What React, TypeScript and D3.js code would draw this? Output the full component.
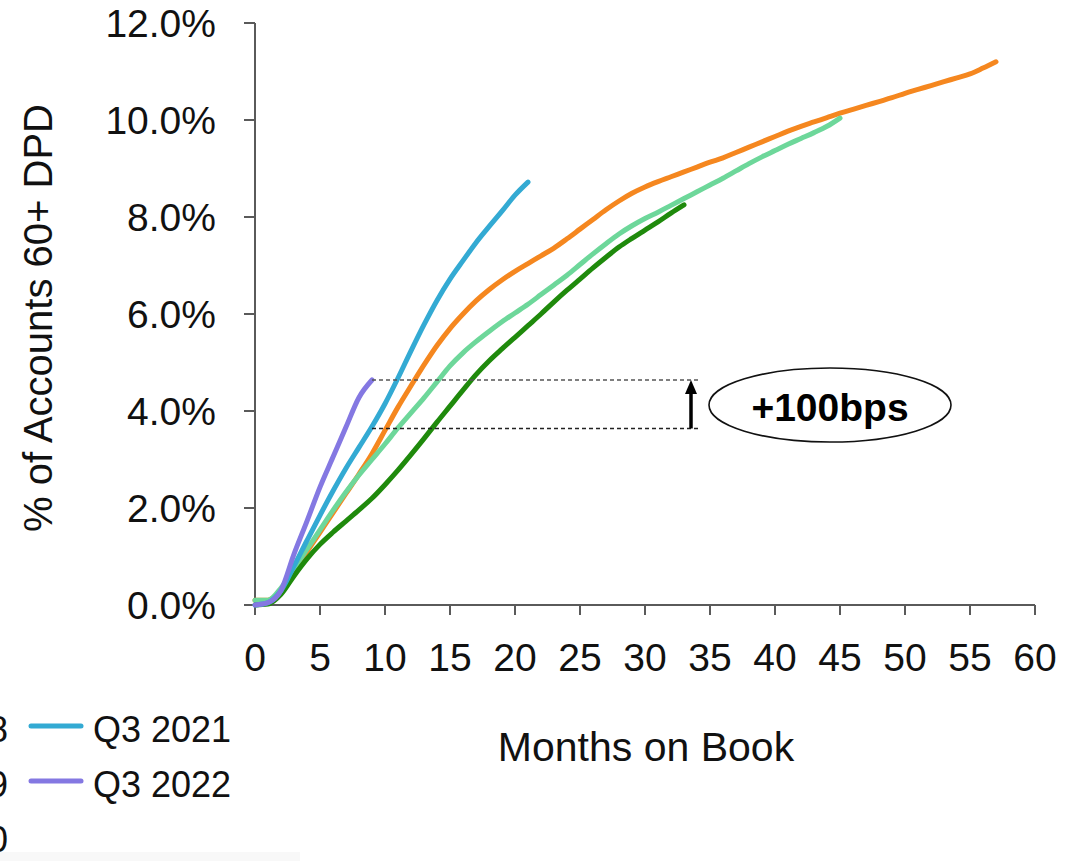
import React from "react";
import * as d3 from "d3";

// Cumulative % of accounts 60+ days past due, by months on book, per vintage
const vintageNames = ["Q3 2018", "Q3 2019", "Q3 2020", "Q3 2021", "Q3 2022"];
const vintageColors = ["#f5871f", "#6dd79a", "#1f8a0c", "#33aad3", "#8478e2"];

const q3_2018 = [
  0.1, 0.1, 0.3, 0.7, 1.1, 1.5, 1.9, 2.3, 2.7, 3.12, 3.6, 4.08, 4.52, 4.95, 5.35, 5.7,
  6.0, 6.27, 6.5, 6.7, 6.88, 7.04, 7.2, 7.36, 7.55, 7.75, 7.95, 8.15, 8.33, 8.49, 8.62,
  8.73, 8.83, 8.93, 9.03, 9.13, 9.22, 9.33, 9.44, 9.55, 9.66, 9.77, 9.87, 9.96, 10.05,
  10.14, 10.22, 10.3, 10.38, 10.46, 10.55, 10.63, 10.71, 10.79, 10.87, 10.95, 11.07, 11.2,
];
const q3_2019 = [
  0.1, 0.1, 0.35, 0.75, 1.15, 1.55, 1.95, 2.33, 2.68, 3.0, 3.32, 3.65, 3.96, 4.27, 4.6,
  4.93, 5.2, 5.43, 5.64, 5.84, 6.02, 6.2, 6.4, 6.6, 6.8, 7.02, 7.24, 7.45, 7.65, 7.82,
  7.97, 8.1, 8.24, 8.38, 8.52, 8.66, 8.8, 8.95, 9.1, 9.24, 9.37, 9.5, 9.62, 9.74, 9.87, 10.04,
];
const q3_2020 = [
  0, 0.02, 0.22, 0.6, 0.95, 1.25, 1.5, 1.73, 1.96, 2.2, 2.48, 2.78, 3.1, 3.43, 3.77,
  4.1, 4.43, 4.75, 5.03, 5.28, 5.52, 5.76, 6.0, 6.25, 6.49, 6.72, 6.95, 7.17, 7.38, 7.56,
  7.73, 7.9, 8.08, 8.25,
];
const q3_2021 = [
  0, 0.05, 0.3, 0.8, 1.33, 1.85, 2.35, 2.82, 3.25, 3.68, 4.15, 4.68, 5.24, 5.78, 6.28,
  6.72, 7.1, 7.47, 7.8, 8.12, 8.45, 8.72,
];
const q3_2022 = [0, 0.05, 0.3, 1.05, 1.73, 2.43, 3.05, 3.67, 4.28, 4.64];

const vintageValues = [q3_2018, q3_2019, q3_2020, q3_2021, q3_2022];

const xTicks = [0, 5, 10, 15, 20, 25, 30, 35, 40, 45, 50, 55, 60];
const yTicks = [0, 2, 4, 6, 8, 10, 12];

// Gap between the two newest vintages at month 9
const gapMonth = 9;
const gapHigh = 4.64;
const gapLow = 3.64;
const gapLabel = "+100bps";

const xTitle = "Months on Book";
const yTitle = "% of Accounts 60+ DPD";

const FONT = "'Liberation Sans', Arial, Helvetica, sans-serif";

export default function App() {
  const W = 1076;
  const H = 861;
  const x = d3.scaleLinear().domain([0, 60]).range([255, 1035]);
  const y = d3.scaleLinear().domain([0, 12]).range([605, 23]);

  const line = d3
    .line<number>()
    .x((_, i) => x(i))
    .y((d) => y(d))
    .curve(d3.curveMonotoneX);

  const axisColor = "#5a5a5a";
  const arrowX = x(gapMonth) + 319;
  const dashEnd = x(gapMonth) + 327;

  return (
    <svg
      width={W}
      height={H}
      style={{ position: "absolute", left: 0, top: 0, background: "#fff" }}
      fontFamily={FONT}
    >
      <rect x={0} y={852} width={300} height={9} fill="#f8f8f8" />

      {/* axes */}
      <line x1={x(0)} x2={x(0)} y1={y(0)} y2={y(12)} stroke={axisColor} strokeWidth={2} />
      <line x1={x(0)} x2={x(60)} y1={y(0)} y2={y(0)} stroke={axisColor} strokeWidth={2} />
      {yTicks.map((t) => (
        <g key={"y" + t}>
          <line x1={x(0) - 11} x2={x(0)} y1={y(t)} y2={y(t)} stroke={axisColor} strokeWidth={2} />
          <text x={216} y={y(t)} dy="0.36em" textAnchor="end" fontSize={39} fill="#111">
            {t.toFixed(1) + "%"}
          </text>
        </g>
      ))}
      {xTicks.map((t) => (
        <g key={"x" + t}>
          <line x1={x(t)} x2={x(t)} y1={y(0)} y2={y(0) + 10} stroke={axisColor} strokeWidth={2} />
          <text x={x(t)} y={671} textAnchor="middle" fontSize={39} fill="#111">
            {t}
          </text>
        </g>
      ))}

      <text x={646} y={761} textAnchor="middle" fontSize={41} fill="#111">
        {xTitle}
      </text>
      <text
        transform="translate(52,318) rotate(-90)"
        textAnchor="middle"
        fontSize={40}
        fill="#111"
      >
        {yTitle}
      </text>

      {/* vintage curves */}
      {vintageValues.map((vals, k) => (
        <path
          key={vintageNames[k]}
          d={line(vals) || ""}
          fill="none"
          stroke={vintageColors[k]}
          strokeWidth={5}
          strokeLinecap="round"
          strokeLinejoin="round"
        />
      ))}

      {/* gap annotation */}
      <line
        x1={x(gapMonth)}
        x2={dashEnd}
        y1={y(gapHigh)}
        y2={y(gapHigh)}
        stroke="#555"
        strokeWidth={1.6}
        strokeDasharray="4 3"
      />
      <line
        x1={x(gapMonth)}
        x2={dashEnd}
        y1={y(gapLow)}
        y2={y(gapLow)}
        stroke="#222"
        strokeWidth={1.6}
        strokeDasharray="4 3"
      />
      <line
        x1={arrowX}
        x2={arrowX}
        y1={y(gapLow)}
        y2={y(gapHigh) + 12}
        stroke="#000"
        strokeWidth={3.5}
      />
      <path
        d={`M${arrowX},${y(gapHigh)} L${arrowX - 6},${y(gapHigh) + 14} L${arrowX + 6},${y(gapHigh) + 14} Z`}
        fill="#000"
      />
      <ellipse cx={830} cy={405} rx={121} ry={37} fill="#fff" stroke="#111" strokeWidth={1.6} />
      <text x={830} y={421} textAnchor="middle" fontSize={39} fontWeight="bold" fill="#000">
        {gapLabel}
      </text>

      {/* legend */}
      {vintageNames.map((name, k) => {
        const col = k < 3 ? 0 : 1;
        const row = k < 3 ? k : k - 3;
        const lx = col === 0 ? -192 : 31;
        const cy = 726 + row * 55;
        return (
          <g key={"lg" + name}>
            <line
              x1={lx}
              x2={lx + 50}
              y1={cy}
              y2={cy}
              stroke={vintageColors[k]}
              strokeWidth={5}
              strokeLinecap="round"
            />
            <text x={lx + 62} y={cy + 16} fontSize={36} fill="#111">
              {name}
            </text>
          </g>
        );
      })}
    </svg>
  );
}
